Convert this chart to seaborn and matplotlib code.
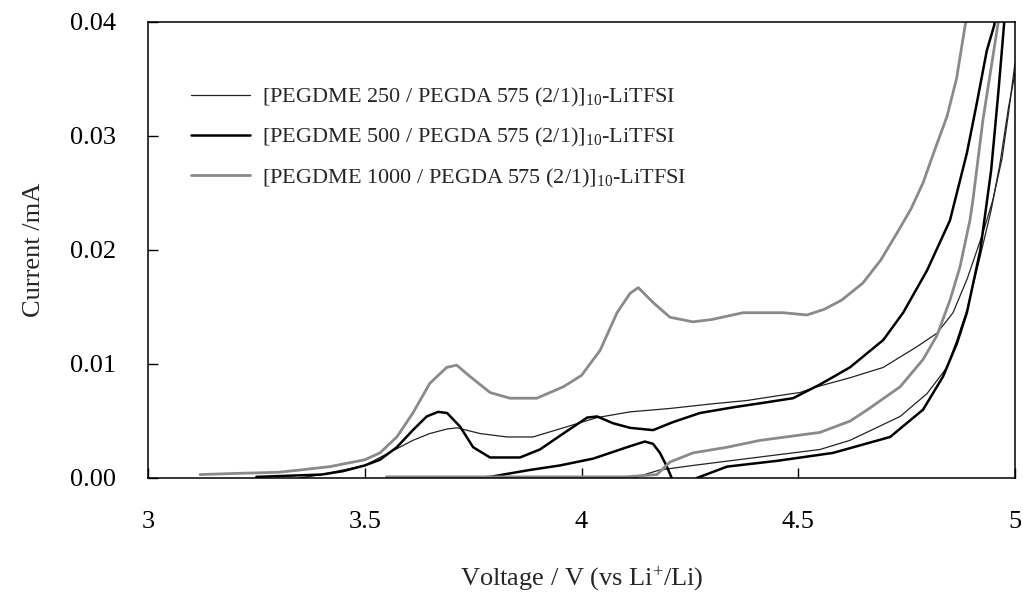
import numpy as np
import pandas as pd
import matplotlib
matplotlib.use("Agg")
import matplotlib.pyplot as plt
import seaborn as sns

# Linear sweep voltammetry, first and second sweeps of each electrolyte
# PEGDME 250 blend (thin dark line)
v_250_first = [3.35, 3.40, 3.45, 3.50, 3.535, 3.611, 3.65, 3.69, 3.713, 3.766, 3.828,
               3.888, 3.958, 4.036, 4.112, 4.204, 4.30, 4.382, 4.45, 4.504, 4.543,
               4.62, 4.696, 4.773, 4.82, 4.857, 4.89, 4.926, 4.949, 4.97, 4.985, 5.0]
i_250_first = [0.0, 0.0003, 0.0007, 0.0011, 0.0018, 0.0033, 0.0039, 0.0043, 0.0044,
               0.0039, 0.0036, 0.0036, 0.0044, 0.0053, 0.0058, 0.0061, 0.0065, 0.0068,
               0.0072, 0.0075, 0.0080, 0.0088, 0.0097, 0.0115, 0.0127, 0.0145, 0.0175,
               0.0215, 0.0244, 0.0280, 0.0320, 0.0364]
v_250_second = [4.12, 4.18, 4.257, 4.382, 4.55, 4.619, 4.735, 4.797, 4.843, 4.866,
                4.889, 4.92, 4.945, 4.965, 4.985, 5.0]
i_250_second = [0.0, 0.0007, 0.0011, 0.0017, 0.0025, 0.0033, 0.0054, 0.0074, 0.0097,
                0.0121, 0.0147, 0.0195, 0.0235, 0.0275, 0.0325, 0.0355]

# PEGDME 500 blend (thick black line)
v_500_first = [3.25, 3.40, 3.45, 3.50, 3.535, 3.574, 3.611, 3.643, 3.669, 3.69, 3.72,
               3.75, 3.789, 3.858, 3.904, 3.958, 4.013, 4.036, 4.073, 4.112, 4.165,
               4.211, 4.273, 4.35, 4.42, 4.488, 4.55, 4.619, 4.696, 4.742, 4.797,
               4.85, 4.889, 4.912, 4.935, 4.952, 4.96]
i_500_first = [0.0001, 0.0003, 0.0006, 0.0011, 0.0016, 0.0027, 0.0042, 0.0054, 0.0058,
               0.0057, 0.0045, 0.0027, 0.0018, 0.0018, 0.0025, 0.0039, 0.0053, 0.0054,
               0.0048, 0.0044, 0.0042, 0.0049, 0.0057, 0.0062, 0.0066, 0.0070, 0.0082,
               0.0097, 0.0121, 0.0145, 0.0182, 0.0226, 0.0285, 0.0329, 0.0375, 0.0397,
               0.0420]
v_500_second = [3.75, 3.789, 3.88, 3.95, 4.027, 4.105, 4.146, 4.165, 4.181, 4.197,
                4.208, 4.215, 4.24, 4.266, 4.336, 4.45, 4.58, 4.712, 4.788, 4.834,
                4.866, 4.889, 4.92, 4.945, 4.962, 4.975, 4.98]
i_500_second = [0.0, 0.0001, 0.0007, 0.0011, 0.0017, 0.0027, 0.0032, 0.0030, 0.0022,
                0.0010, 0.0, -0.0010, -0.0010, 0.0, 0.0010, 0.0015, 0.0022, 0.0036,
                0.0060, 0.0089, 0.0118, 0.0145, 0.0200, 0.0270, 0.0340, 0.0399, 0.0420]

# PEGDME 1000 blend (thick grey line)
v_1000_first = [3.12, 3.20, 3.30, 3.35, 3.42, 3.46, 3.50, 3.535, 3.574, 3.611, 3.65,
                3.689, 3.712, 3.743, 3.789, 3.835, 3.897, 3.958, 4.0, 4.043, 4.082,
                4.112, 4.131, 4.165, 4.204, 4.257, 4.30, 4.373, 4.465, 4.52, 4.56,
                4.60, 4.649, 4.69, 4.728, 4.76, 4.788, 4.815, 4.843, 4.865, 4.885, 4.90]
i_1000_first = [0.0003, 0.0004, 0.0005, 0.0007, 0.0010, 0.0013, 0.0016, 0.0022, 0.0036,
                0.0057, 0.0083, 0.0097, 0.0099, 0.0089, 0.0075, 0.0070, 0.0070, 0.0080,
                0.0090, 0.0112, 0.0145, 0.0162, 0.0167, 0.0154, 0.0141, 0.0137, 0.0139,
                0.0145, 0.0145, 0.0143, 0.0148, 0.0156, 0.0171, 0.0191, 0.0215, 0.0236,
                0.0259, 0.0288, 0.0317, 0.0350, 0.0397, 0.0420]
v_1000_second = [3.55, 3.80, 4.10, 4.174, 4.204, 4.257, 4.336, 4.412, 4.55, 4.62, 4.66,
                 4.735, 4.788, 4.82, 4.85, 4.873, 4.896, 4.903, 4.926, 4.945, 4.961, 4.97]
i_1000_second = [0.0001, 0.0001, 0.0001, 0.0003, 0.0014, 0.0022, 0.0027, 0.0033, 0.0040,
                 0.0050, 0.0060, 0.0080, 0.0104, 0.0125, 0.0156, 0.0185, 0.0226, 0.0244,
                 0.0314, 0.0360, 0.0399, 0.0420]

series_labels = [
    r"[PEGDME 250 / PEGDA 575 (2/1)]$_{10}$-LiTFSI",
    r"[PEGDME 500 / PEGDA 575 (2/1)]$_{10}$-LiTFSI",
    r"[PEGDME 1000 / PEGDA 575 (2/1)]$_{10}$-LiTFSI",
]
x_ticks = [3, 3.5, 4, 4.5, 5]
x_tick_labels = ["3", "3.5", "4", "4.5", "5"]
y_ticks = [0.00, 0.01, 0.02, 0.03, 0.04]
y_tick_labels = ["0.00", "0.01", "0.02", "0.03", "0.04"]

sns.set_style("ticks")
plt.rcParams["font.family"] = ["Liberation Serif", "DejaVu Serif"]
plt.rcParams["mathtext.fontset"] = "custom"
plt.rcParams["mathtext.rm"] = "Liberation Serif"
plt.rcParams["mathtext.it"] = "Liberation Serif:italic"

curves = [
    (v_250_first, i_250_first, 0, "first"),
    (v_250_second, i_250_second, 0, "second"),
    (v_500_first, i_500_first, 1, "first"),
    (v_500_second, i_500_second, 1, "second"),
    (v_1000_first, i_1000_first, 2, "first"),
    (v_1000_second, i_1000_second, 2, "second"),
]
frames = []
for k, (v, i, s, sweep) in enumerate(curves):
    frames.append(pd.DataFrame({"voltage": v, "current": i,
                                "series": series_labels[s], "curve": k}))
df = pd.concat(frames, ignore_index=True)

styles = {0: dict(color="#222222", lw=0.9),
          1: dict(color="#000000", lw=1.8),
          2: dict(color="#8a8a8a", lw=2.0)}

fig = plt.figure(figsize=(10.23, 5.94), dpi=100)
ax = fig.add_axes([148 / 1023, 1 - 478 / 594, 867 / 1023, 456 / 594])

for k, (v, i, s, sweep) in enumerate(curves):
    sub = df[df["curve"] == k]
    sns.lineplot(data=sub, x="voltage", y="current", ax=ax, sort=False,
                 estimator=None, color=styles[s]["color"],
                 linewidth=styles[s]["lw"],
                 label=series_labels[s] if sweep == "first" else None,
                 legend=False)

ax.set_xlim(3, 5)
ax.set_ylim(0, 0.04)
ax.set_xticks(x_ticks)
ax.set_xticklabels(x_tick_labels)
ax.set_yticks(y_ticks)
ax.set_yticklabels(y_tick_labels)
ax.tick_params(direction="in", length=7, width=1, labelsize=19,
               colors="black")
ax.tick_params(axis="x", pad=24)
ax.tick_params(axis="y", pad=23)
for sp in ax.spines.values():
    sp.set_visible(True)
    sp.set_linewidth(1.1)
    sp.set_color("black")

ax.set_xlabel(r"Voltage / V (vs Li$^{+}$/Li)", fontsize=19, labelpad=22)
ax.set_ylabel("Current /mA", fontsize=19, labelpad=18)

handles, labels = ax.get_legend_handles_labels()
ax.legend(handles, labels, loc="upper left", bbox_to_anchor=(0.05, 0.86),
          frameon=False, fontsize=16, handlelength=2.65, handletextpad=0.55,
          labelspacing=0.78, borderpad=0, borderaxespad=0)

fig.savefig("out.png", dpi=100)
